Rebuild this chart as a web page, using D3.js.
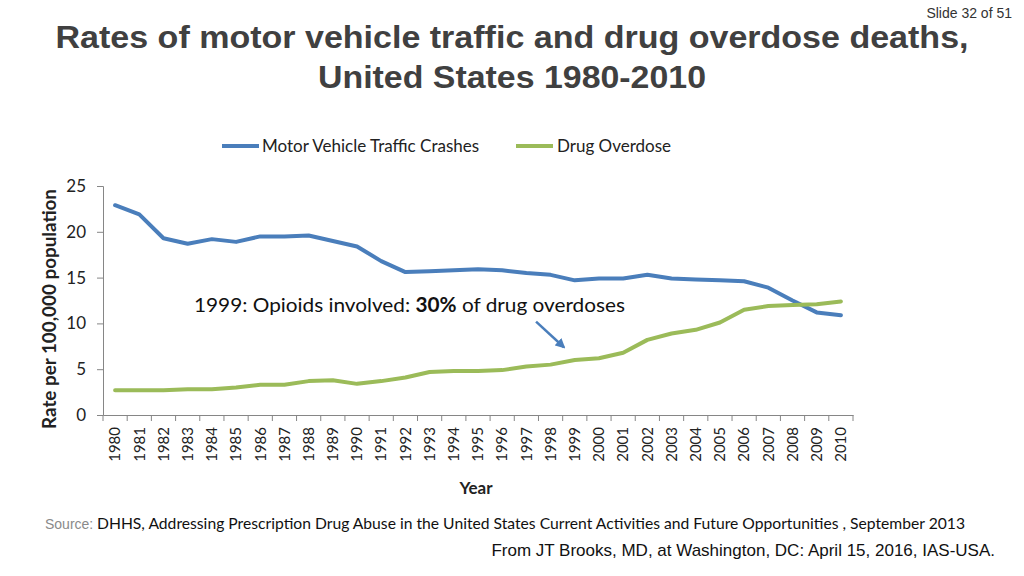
<!DOCTYPE html>
<html><head><meta charset="utf-8">
<script src="https://cdn.jsdelivr.net/npm/d3@7"></script>
<style>
body{margin:0;background:#fff;}
svg{display:block;}
</style></head>
<body>
<svg id="c" width="1024" height="576"></svg>
<script>
const years = d3.range(1980, 2011);
const motorVehicle = [22.9,21.9,19.3,18.7,19.2,18.9,19.5,19.5,19.6,19.0,18.4,16.8,15.6,15.7,15.8,15.9,15.8,15.5,15.3,14.7,14.9,14.9,15.3,14.9,14.8,14.7,14.6,13.9,12.5,11.2,10.9];
const drugOverdose = [2.7,2.7,2.7,2.8,2.8,3.0,3.3,3.3,3.7,3.8,3.4,3.7,4.1,4.7,4.8,4.8,4.9,5.3,5.5,6.0,6.2,6.8,8.2,8.9,9.3,10.1,11.5,11.9,12.0,12.1,12.4];
const yTicks = [0,5,10,15,20,25];
const seriesNames = ["Motor Vehicle Traffic Crashes","Drug Overdose"];
const colors = ["#4a7ebb","#9bbb59"];

const svg = d3.select("#c");
const x = d3.scaleBand().domain(years).range([103, 853]);
const y = d3.scaleLinear().domain([0,25]).range([415, 186]);
const cx = d => x(d) + x.bandwidth()/2;

// title
svg.append("text").attr("x",1012).attr("y",18).attr("text-anchor","end")
  .attr("font-family","Liberation Sans Narrow, Liberation Sans").attr("font-size",14).attr("fill","#333").text("Slide 32 of 51");
svg.append("text").attr("x",512).attr("y",48).attr("text-anchor","middle")
  .attr("font-family","Liberation Sans").attr("font-weight","bold").attr("font-size",32).attr("fill","#404040")
  .attr("textLength",913).attr("lengthAdjust","spacingAndGlyphs")
  .text("Rates of motor vehicle traffic and drug overdose deaths,");
svg.append("text").attr("x",512).attr("y",88).attr("text-anchor","middle")
  .attr("font-family","Liberation Sans").attr("font-weight","bold").attr("font-size",32).attr("fill","#404040")
  .attr("textLength",388).attr("lengthAdjust","spacingAndGlyphs")
  .text("United States 1980-2010");

// axes
const yAxis = svg.append("g").attr("transform","translate(103,0)")
  .call(d3.axisLeft(y).tickValues(yTicks).tickSize(6).tickPadding(11));
yAxis.selectAll("path,line").attr("stroke","#868686");
yAxis.selectAll("text").attr("font-family","Lato, Open Sans").attr("font-size",17).attr("fill","#222");

const xAxis = svg.append("g").attr("transform","translate(0,415)")
  .call(d3.axisBottom(x).tickSize(0).tickFormat(d=>d));
xAxis.select("path").attr("stroke","#868686");
xAxis.selectAll("text").attr("font-family","Lato, Open Sans").attr("font-size",15).attr("fill","#222")
  .attr("transform","rotate(-90)").attr("text-anchor","end").attr("dy","0.35em").attr("x",-12).attr("y",0);
// tick marks between categories
svg.append("g").selectAll("line").data(years.concat([2011])).join("line")
  .attr("x1",d=>d===2011 ? 853 : x(d)).attr("x2",d=>d===2011 ? 853 : x(d))
  .attr("y1",415).attr("y2",421).attr("stroke","#868686");

// axis titles
svg.append("text").attr("transform","translate(56,309) rotate(-90)").attr("text-anchor","middle")
  .attr("font-family","Lato, Open Sans").attr("font-weight","bold").attr("font-size",18.5).attr("fill","#222")
  .attr("textLength",240).attr("lengthAdjust","spacingAndGlyphs")
  .text("Rate per 100,000 population");
svg.append("text").attr("x",476).attr("y",494).attr("text-anchor","middle")
  .attr("font-family","Lato, Open Sans").attr("font-weight","bold").attr("font-size",17).attr("fill","#222")
  .text("Year");

// lines
const line = d3.line().x((d,i)=>cx(years[i])).y(d=>y(d));
[motorVehicle, drugOverdose].forEach((s,i)=>{
  svg.append("path").datum(s).attr("d",line).attr("fill","none")
    .attr("stroke",colors[i]).attr("stroke-width",4).attr("stroke-linejoin","round").attr("stroke-linecap","round");
});

// legend
const leg = [{x:222,tx:262},{x:516,tx:557}];
seriesNames.forEach((n,i)=>{
  svg.append("line").attr("x1",leg[i].x).attr("x2",leg[i].x+37).attr("y1",146).attr("y2",146)
    .attr("stroke",colors[i]).attr("stroke-width",4);
  svg.append("text").attr("x",leg[i].tx).attr("y",152).attr("font-family","Lato, Open Sans")
    .attr("font-size",17).attr("fill","#222").text(n);
});

// annotation
const ann = svg.append("text").attr("x",194).attr("y",312).attr("font-family","Lato, Open Sans")
  .attr("font-size",20).attr("fill","#111").attr("textLength",431).attr("lengthAdjust","spacingAndGlyphs");
ann.append("tspan").text("1999: Opioids involved: ");
ann.append("tspan").attr("font-weight","bold").text("30%");
ann.append("tspan").text(" of drug overdoses");

svg.append("defs").append("marker").attr("id","ah").attr("viewBox","0 0 10 10").attr("refX",8).attr("refY",5)
  .attr("markerWidth",4).attr("markerHeight",4).attr("orient","auto")
  .append("path").attr("d","M0,0L10,5L0,10z").attr("fill","#4a7ebb");
const ax = d3.scaleLinear().domain([1980,2010]).range([cx(1980),cx(2010)]);
svg.append("line").attr("x1",ax(1997.4)).attr("y1",y(10.2)).attr("x2",ax(1998.55)).attr("y2",y(7.4))
  .attr("stroke","#4a7ebb").attr("stroke-width",2.5).attr("marker-end","url(#ah)");

// source
svg.append("text").attr("x",45).attr("y",529).attr("font-size",14)
  .attr("font-family","Liberation Sans Narrow, Liberation Sans").attr("fill","#8a8a8a").text("Source:");
svg.append("text").attr("x",97).attr("y",529).attr("font-size",15)
  .attr("font-family","Lato, Open Sans").attr("fill","#111")
  .attr("textLength",868).attr("lengthAdjust","spacingAndGlyphs")
  .text("DHHS, Addressing Prescription Drug Abuse in the United States  Current Activities and Future Opportunities , September 2013");
svg.append("text").attr("x",995).attr("y",556).attr("text-anchor","end")
  .attr("font-family","Liberation Sans Narrow, Liberation Sans").attr("font-size",17).attr("fill","#111")
  .text("From JT Brooks, MD, at Washington, DC: April 15, 2016, IAS-USA.");
</script>
</body></html>
